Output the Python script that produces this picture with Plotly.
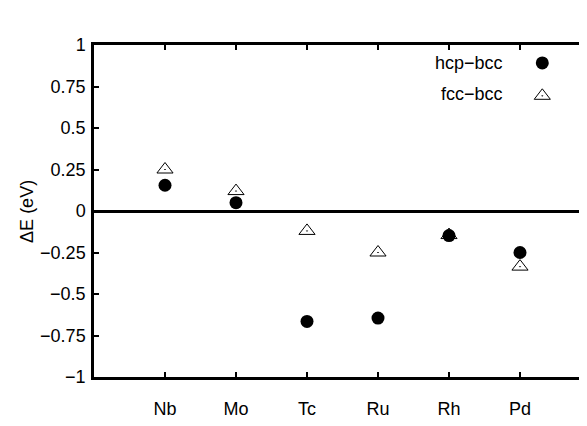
import plotly.graph_objects as go

elements = ["Nb", "Mo", "Tc", "Ru", "Rh", "Pd"]
hcp_bcc = [0.155, 0.05, -0.665, -0.645, -0.148, -0.25]
fcc_bcc = [0.25, 0.12, -0.12, -0.25, -0.145, -0.335]
ytick_vals = [-1, -0.75, -0.5, -0.25, 0, 0.25, 0.5, 0.75, 1]
ytick_text = ["\u22121", "\u22120.75", "\u22120.5", "\u22120.25", "0", "0.25", "0.5", "0.75", "1"]
series_names = ["hcp\u2212bcc", "fcc\u2212bcc"]

FONT = "Liberation Sans, Arial, sans-serif"

fig = go.Figure()
fig.add_trace(go.Scatter(
    x=elements, y=hcp_bcc, mode="markers", name=series_names[0],
    marker=dict(symbol="circle", size=13, color="black", line=dict(width=0)),
    showlegend=False))
fig.add_trace(go.Scatter(
    x=elements, y=fcc_bcc, mode="markers", name=series_names[1],
    marker=dict(symbol="triangle-up-open-dot", size=14, color="black", line=dict(width=1, color="black")),
    showlegend=False))

# legend key (gnuplot style: text right-aligned, symbol to the right)
key_text_y = [0.946, 0.852]
key_sym_x = 0.902
fig.add_trace(go.Scatter(
    x=[key_sym_x], y=[key_text_y[0]], xaxis="x2", yaxis="y2", mode="markers",
    marker=dict(symbol="circle", size=13, color="black", line=dict(width=0)),
    showlegend=False, hoverinfo="skip"))
fig.add_trace(go.Scatter(
    x=[key_sym_x], y=[key_text_y[1] - 0.005], xaxis="x2", yaxis="y2", mode="markers",
    marker=dict(symbol="triangle-up-open-dot", size=14, color="black", line=dict(width=1, color="black")),
    showlegend=False, hoverinfo="skip"))
for name, yy in zip(series_names, key_text_y):
    fig.add_annotation(x=0.826, y=yy, xref="paper", yref="paper", text=name,
                       showarrow=False, xanchor="right", yanchor="middle",
                       font=dict(size=18, color="black", family=FONT))

fig.add_annotation(x=-0.135, y=0.5, xref="paper", yref="paper", text="\u0394E (eV)",
                   showarrow=False, textangle=-90, xanchor="center", yanchor="middle",
                   font=dict(size=18, color="black", family=FONT))

axis_common = dict(showgrid=False, showline=True, linecolor="black", linewidth=2.5,
                   mirror="allticks", ticks="inside", ticklen=5, tickwidth=2,
                   tickcolor="black", tickfont=dict(size=18, color="black", family=FONT))

fig.update_layout(
    width=587, height=426,
    margin=dict(l=86, r=1, t=37, b=57),
    paper_bgcolor="white", plot_bgcolor="white",
    font=dict(family=FONT, size=18, color="black"),
    xaxis=dict(type="category", categoryorder="array", categoryarray=elements,
               range=[-1, 6], zeroline=False, ticklabelstandoff=14, **axis_common),
    yaxis=dict(range=[-1, 1], tickvals=ytick_vals, ticktext=ytick_text,
               zeroline=True, zerolinecolor="black", zerolinewidth=2.5,
               ticklabelstandoff=2, **axis_common),
    xaxis2=dict(range=[0, 1], overlaying="x", visible=False),
    yaxis2=dict(range=[0, 1], overlaying="y", visible=False),
)

fig.write_html("out.html")
